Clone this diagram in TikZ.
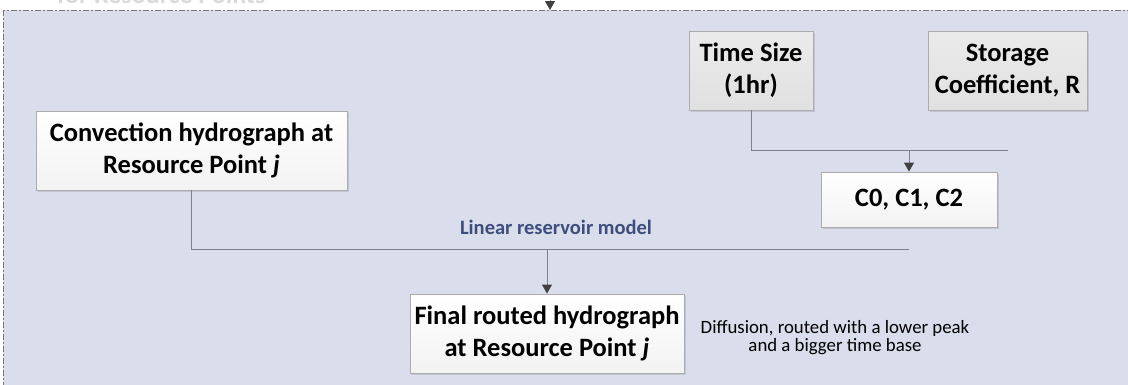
\documentclass[tikz,border=0pt]{standalone}
\usepackage{fontspec}
\setmainfont{Carlito}
\usetikzlibrary{arrows.meta,shadows}
\definecolor{panelfill}{RGB}{218,222,236}
\definecolor{panelline}{RGB}{120,120,120}
\definecolor{conn}{RGB}{125,130,145}
\definecolor{tipcol}{RGB}{64,64,64}
\definecolor{labelblue}{RGB}{62,78,124}
\tikzset{
  whitebox/.style={rectangle, draw=gray!65, line width=0.9pt, top color=white, bottom color=gray!10,
    drop shadow={shadow xshift=1.5pt, shadow yshift=-1.5pt, opacity=0.25},
    align=center, inner sep=0pt, font=\fontsize{26.5}{32}\selectfont\bfseries},
  greybox/.style={whitebox, top color=gray!16, bottom color=gray!24},
  conline/.style={draw=conn, line width=1pt},
  conarrow/.style={conline, -{Triangle[width=10pt,length=9pt,fill=tipcol,color=tipcol]}},
}
\begin{document}
\begin{tikzpicture}[x=1pt,y=-1pt]
\useasboundingbox (0,0) rectangle (1128,384);
\clip (0,0) rectangle (1128,384);
% faded heading (cut off at the top)
\node[anchor=base west, text=gray!30, font=\fontsize{26}{32}\selectfont\bfseries, inner sep=0pt] (head) at (57,3) {for Resource Points};
% panel
\draw[panelline, fill=panelfill, line width=0.8pt, dash pattern=on 6pt off 2pt on 2pt off 2pt] (3,10) rectangle (1160,420);
% incoming arrow at top
\coordinate (topin) at (550,-20);
\coordinate (topend) at (550,10);
\draw[conarrow] (topin) -- (topend);
% boxes
\node[whitebox, minimum width=311pt, minimum height=79pt] (conv) at (191.5,150.5) {Convection hydrograph at\\Resource Point \textit{j}};
\node[greybox, minimum width=124pt, minimum height=79pt] (time) at (751,70.5) {Time Size\\(1hr)};
\node[greybox, minimum width=159pt, minimum height=79pt] (stor) at (1007.5,70.5) {Storage\\Coefficient, R};
\node[whitebox, minimum width=176pt, minimum height=55pt] (coef) at (909,199.5) {C0, C1, C2};
\node[whitebox, minimum width=274pt, minimum height=79pt] (final) at (547,333.5) {Final routed hydrograph\\at Resource Point \textit{j}};
% labels
\node[text=labelblue, font=\fontsize{20.5}{24}\selectfont\bfseries, inner sep=0pt] (lrm) at (556,227) {Linear reservoir model};
\node[align=center, font=\fontsize{18.8}{18}\selectfont, inner sep=0pt] (diff) at (835,338) {Diffusion, routed with a lower peak\\and a bigger time base};
% connectors
\coordinate (j2) at (stor.south |- 0,150);
\coordinate (j1) at (coef.south |- 0,249);
\draw[conline] (time.south) |- (j2);
\draw[conarrow] (coef.north |- j2) -- (coef.north);
\draw[conline] (conv.south) |- (j1);
\draw[conarrow] (final.north |- j1) -- (final.north);
\end{tikzpicture}
\end{document}
